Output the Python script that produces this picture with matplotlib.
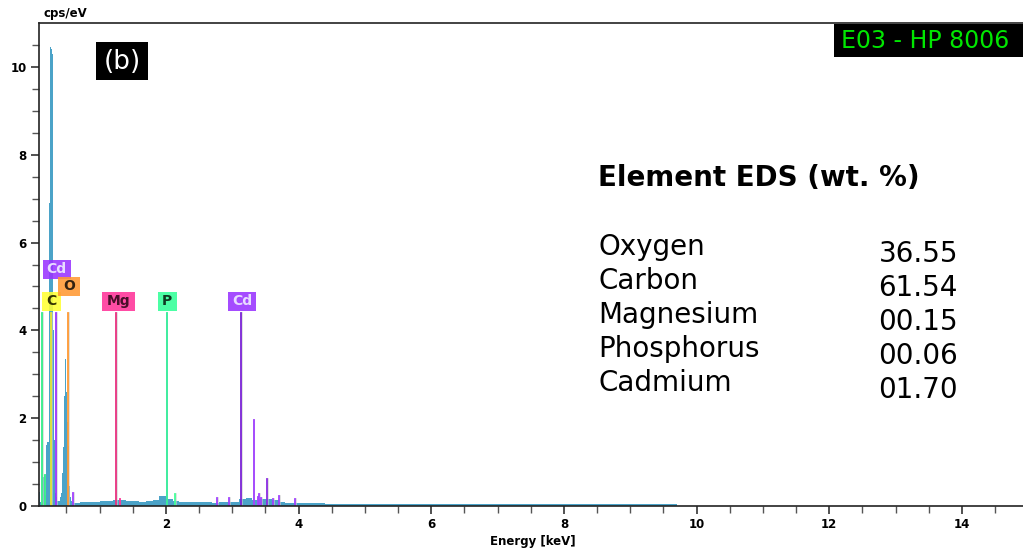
# EDS spectrum (b) with element markers and wt.% table
import numpy as np
import matplotlib.pyplot as plt
from matplotlib.patches import Rectangle

plt.rcParams['font.family'] = ['DejaVu Sans']

# spectrum (keV, cps/eV)
energy = [0.08, 0.09, 0.10, 0.11, 0.12, 0.13, 0.14, 0.15, 0.16, 0.17, 0.18, 0.19,
          0.20, 0.21, 0.22, 0.23, 0.24, 0.25, 0.26, 0.27, 0.28, 0.29, 0.30, 0.31,
          0.32, 0.33, 0.34, 0.35, 0.36, 0.37, 0.38, 0.39, 0.40, 0.41, 0.42, 0.43,
          0.44, 0.45, 0.46, 0.47, 0.48, 0.49, 0.50, 0.51, 0.52, 0.53, 0.54, 0.55,
          0.56, 0.57, 0.58, 0.60, 0.70, 0.80, 0.90, 1.00, 1.10, 1.20, 1.30, 1.40,
          1.50, 1.60, 1.70, 1.80, 1.90, 2.00, 2.10, 2.20, 2.30, 2.40, 2.50, 2.60,
          2.70, 2.80, 2.90, 3.00, 3.10, 3.20, 3.30, 3.40, 3.50, 3.60, 3.70, 3.80,
          3.90, 4.00, 4.20, 4.40, 4.60, 4.80, 5.00, 5.50, 6.00, 6.50, 7.00, 7.50,
          8.00, 8.50, 9.00, 9.60, 9.70]
counts = [0.33, 0.33, 0.10, 0.05, 0.04, 0.06, 0.15, 0.65, 0.70, 0.10, 0.25, 1.40,
          1.40, 1.45, 1.45, 6.90, 6.90, 10.45, 10.45, 10.40, 10.30, 6.40, 4.00, 1.50,
          0.60, 0.30, 0.20, 0.15, 0.12, 0.12, 0.12, 0.12, 0.13, 0.20, 0.30, 0.45,
          0.75, 1.35, 1.35, 2.50, 3.35, 3.35, 2.60, 1.92, 1.37, 1.37, 0.45, 0.30,
          0.20, 0.12, 0.08, 0.07, 0.08, 0.09, 0.10, 0.11, 0.12, 0.14, 0.13, 0.12,
          0.11, 0.10, 0.11, 0.14, 0.22, 0.17, 0.12, 0.10, 0.09, 0.09, 0.08, 0.08,
          0.07, 0.08, 0.08, 0.10, 0.15, 0.18, 0.14, 0.15, 0.15, 0.13, 0.08, 0.07,
          0.06, 0.06, 0.06, 0.055, 0.05, 0.05, 0.05, 0.045, 0.045, 0.045, 0.04, 0.04,
          0.04, 0.04, 0.035, 0.035, 0.0]

# element marker lines: energy, height, colour
line_energy = [0.13, 0.17, 0.27, 0.34, 0.52, 0.60, 1.25, 1.30, 2.01, 2.14,
               2.77, 2.95, 3.13, 3.32, 3.38, 3.40, 3.44, 3.52, 3.62, 3.71, 3.95]
line_height = [4.4, 0.7, 4.4, 4.4, 4.4, 0.3, 4.4, 0.16, 4.4, 0.27,
               0.18, 0.18, 4.4, 1.95, 0.2, 0.27, 0.18, 0.62, 0.15, 0.23, 0.16]
line_color = ['#33ee88', '#33ee88', '#e6e633', '#9933ff', '#ff9933', '#a040ff',
              '#e8307f', '#ff3399', '#33ee99', '#44ff99',
              '#a040ff', '#a040ff', '#7a22d6', '#a040ff', '#a040ff', '#a040ff',
              '#a040ff', '#8a2be2', '#a040ff', '#a040ff', '#a040ff']

# label boxes on the markers
label_text = ['C', 'Cd', 'O', 'Mg', 'P', 'Cd']
label_x = [0.28, 0.35, 0.54, 1.28, 2.02, 3.15]
label_y = [4.66, 5.39, 5.01, 4.66, 4.66, 4.66]
label_face = ['#ffff33', '#9933ff', '#ff9933', '#ff3399', '#33ff99', '#9933ff']
label_font = ['#333300', '#e8dcff', '#332211', '#4a0f2a', '#0f3a22', '#e8dcff']
box_halfw_px = [9.5, 14, 11, 16.5, 9.5, 14]   # box half widths in pixels
box_h_px = 19

# table of weight percentages
elements = ['Oxygen', 'Carbon', 'Magnesium', 'Phosphorus', 'Cadmium']
wt_pct = ['36.55', '61.54', '00.15', '00.06', '01.70']

fig = plt.figure(figsize=(10.23, 5.54), dpi=100)
ax = fig.add_axes([39 / 1023, 48 / 554, 984 / 1023, 483 / 554])
ax.set_xlim(0.086, 14.92)
ax.set_ylim(0, 11.0)
kev_per_px = (14.92 - 0.086) / 984
cps_per_px = 11.0 / 483

ax.fill_between(energy, counts, step='post', color='#4ba3c8', linewidth=0)
for e, h, c in zip(line_energy, line_height, line_color):
    ax.plot([e + 0.012, e + 0.012], [0, h], color='#cccccc', linewidth=1.2, alpha=0.7)
    ax.plot([e, e], [0, h], color=c, linewidth=1.3)
for t, x, y, f, fc, hw in zip(label_text, label_x, label_y, label_face, label_font, box_halfw_px):
    ax.add_patch(Rectangle((x - hw * kev_per_px, y - box_h_px / 2 * cps_per_px),
                           2 * hw * kev_per_px, box_h_px * cps_per_px,
                           facecolor=f, edgecolor='none', alpha=0.88, zorder=4))
    ax.text(x, y, t, ha='center', va='center', fontsize=10, fontweight='bold', color=fc,
            zorder=5)

ax.set_xticks([2, 4, 6, 8, 10, 12, 14])
ax.set_xticks(np.arange(0.5, 15, 0.5), minor=True)
ax.set_yticks([0, 2, 4, 6, 8, 10])
ax.set_yticks(np.arange(0.5, 11, 0.5), minor=True)
ax.tick_params(which='major', length=6, width=1.2, color='#333333', labelsize=8.5, pad=3)
ax.tick_params(which='minor', length=5, width=1.0, color='#555555')
for lab in ax.get_xticklabels() + ax.get_yticklabels():
    lab.set_fontweight('bold')
ax.spines['right'].set_visible(False)
for s in ['left', 'bottom', 'top']:
    ax.spines[s].set_color('#222222')
    ax.spines[s].set_linewidth(1.2)

fig.text(43 / 1023, 1 - 14 / 554, 'cps/eV', fontsize=8.5, fontweight='bold', va='center')
fig.text(533 / 1023, 1 - 541 / 554, 'Energy [keV]', fontsize=8.5, fontweight='bold',
         ha='center', va='center')

# (b) panel tag
fig.patches.append(Rectangle((96 / 1023, 1 - 80 / 554), 52 / 1023, 38 / 554,
                             transform=fig.transFigure, facecolor='black', edgecolor='none'))
fig.text(122 / 1023, 1 - 62 / 554, '(b)', fontsize=19, color='white', ha='center',
         va='center')

# sample id tag
fig.patches.append(Rectangle((834 / 1023, 1 - 57 / 554), 189 / 1023, 33 / 554,
                             transform=fig.transFigure, facecolor='black', edgecolor='none',
                             zorder=5))
fig.text(841 / 1023, 1 - 41 / 554, 'E03 - HP 8006', fontsize=17, color='#00e600',
         va='center', zorder=6)

# composition table
fig.text(598 / 1023, 1 - 178 / 554, 'Element EDS (wt. %)', fontsize=20, fontweight='bold',
         va='center')
for i, (name, val) in enumerate(zip(elements, wt_pct)):
    fig.text(598 / 1023, 1 - (247 + 34 * i) / 554, name, fontsize=20, va='center')
    fig.text(958 / 1023, 1 - (254 + 34 * i) / 554, val, fontsize=20, va='center', ha='right')

plt.savefig('out.png', dpi=100)
